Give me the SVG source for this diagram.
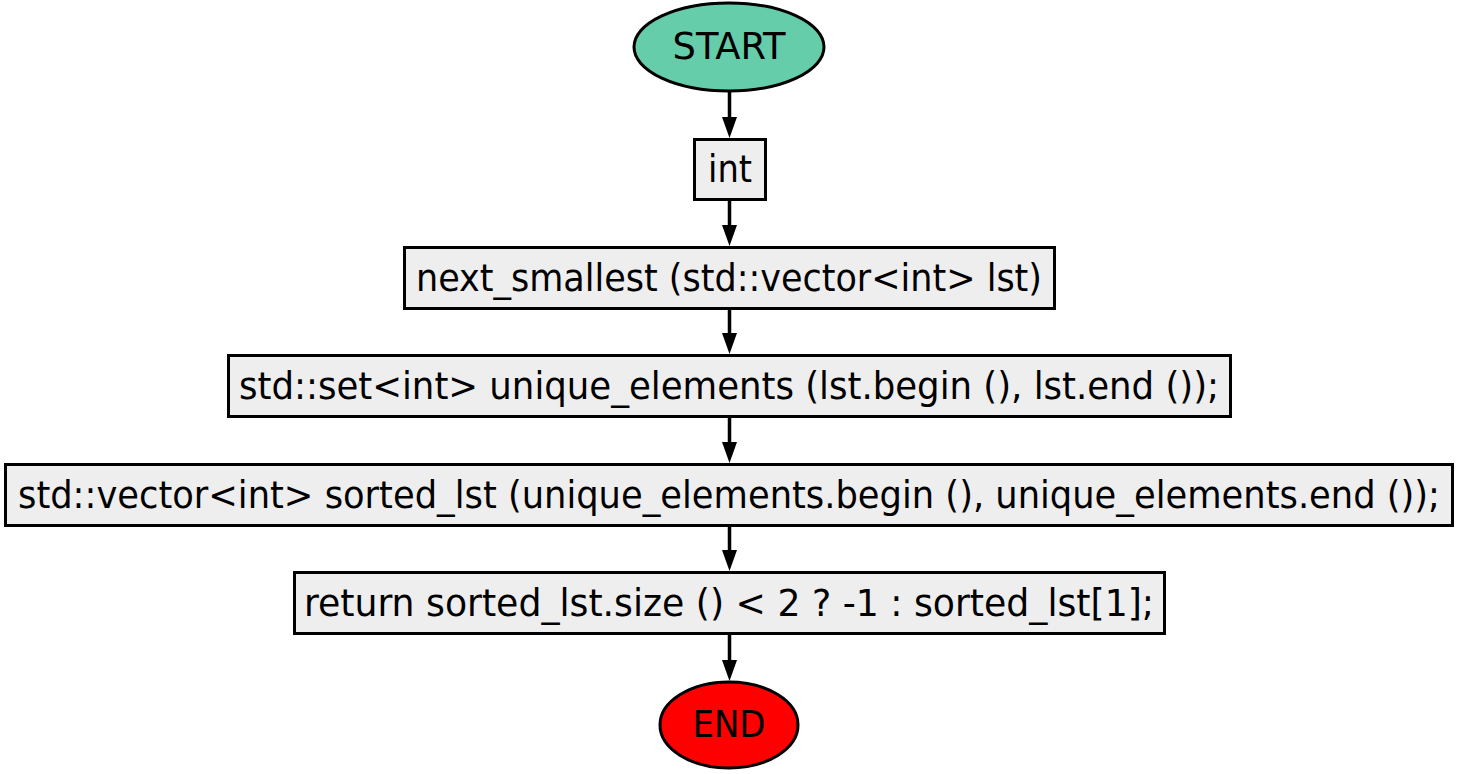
<svg xmlns="http://www.w3.org/2000/svg" width="1459" height="774" viewBox="0 0 1459 774">
<style>
.box{fill:#eeeeee;stroke:#000;stroke-width:3}
.t{font-family:"DejaVu Sans Condensed","DejaVu Sans",sans-serif;font-size:37px;fill:#000;text-anchor:middle}
.e{stroke:#000;stroke-width:3.5;fill:none}
</style>
<defs>
<marker id="ah" markerWidth="21" markerHeight="15" refX="0" refY="7.5" orient="auto" markerUnits="userSpaceOnUse" viewBox="0 0 21 15">
<path d="M0,0 L21,7.5 L0,15 Z" fill="#000"/>
</marker>
</defs>
<rect width="1459" height="774" fill="#fff"/>
<g id="connectors">
<line class="e" x1="729.5" y1="91" x2="729.5" y2="117" marker-end="url(#ah)"/>
<line class="e" x1="729.5" y1="199" x2="729.5" y2="225" marker-end="url(#ah)"/>
<line class="e" x1="729.5" y1="308" x2="729.5" y2="333" marker-end="url(#ah)"/>
<line class="e" x1="729.5" y1="416" x2="729.5" y2="442" marker-end="url(#ah)"/>
<line class="e" x1="729.5" y1="525" x2="729.5" y2="550" marker-end="url(#ah)"/>
<line class="e" x1="729.5" y1="633" x2="729.5" y2="660" marker-end="url(#ah)"/>
</g>
<g id="start">
<ellipse cx="729" cy="47" rx="95" ry="44" fill="#66cdaa" stroke="#000" stroke-width="3"/>
<text class="t" x="729" y="59" textLength="113" lengthAdjust="spacingAndGlyphs">START</text>
</g>
<g id="n_int">
<rect class="box" x="694.5" y="139.5" width="71" height="60"/>
<text class="t" x="730" y="182" textLength="44" lengthAdjust="spacingAndGlyphs">int</text>
</g>
<g id="n_sig">
<rect class="box" x="404.5" y="247.5" width="650" height="61"/>
<text class="t" x="729" y="291" textLength="626" lengthAdjust="spacingAndGlyphs">next_smallest (std::vector&lt;int&gt; lst)</text>
</g>
<g id="n_set">
<rect class="box" x="228.5" y="355.5" width="1002" height="61"/>
<text class="t" x="729" y="399" textLength="980" lengthAdjust="spacingAndGlyphs">std::set&lt;int&gt; unique_elements (lst.begin (), lst.end ());</text>
</g>
<g id="n_vec">
<rect class="box" x="5.5" y="464.5" width="1447" height="61"/>
<text class="t" x="729" y="508" textLength="1422" lengthAdjust="spacingAndGlyphs">std::vector&lt;int&gt; sorted_lst (unique_elements.begin (), unique_elements.end ());</text>
</g>
<g id="n_ret">
<rect class="box" x="294.5" y="572.5" width="870" height="61"/>
<text class="t" x="729" y="616" textLength="850" lengthAdjust="spacingAndGlyphs">return sorted_lst.size () &lt; 2 ? -1 : sorted_lst[1];</text>
</g>
<g id="end">
<ellipse cx="729" cy="725" rx="69" ry="43" fill="#ff0000" stroke="#000" stroke-width="3"/>
<text class="t" x="729" y="737" textLength="73" lengthAdjust="spacingAndGlyphs">END</text>
</g>
</svg>
